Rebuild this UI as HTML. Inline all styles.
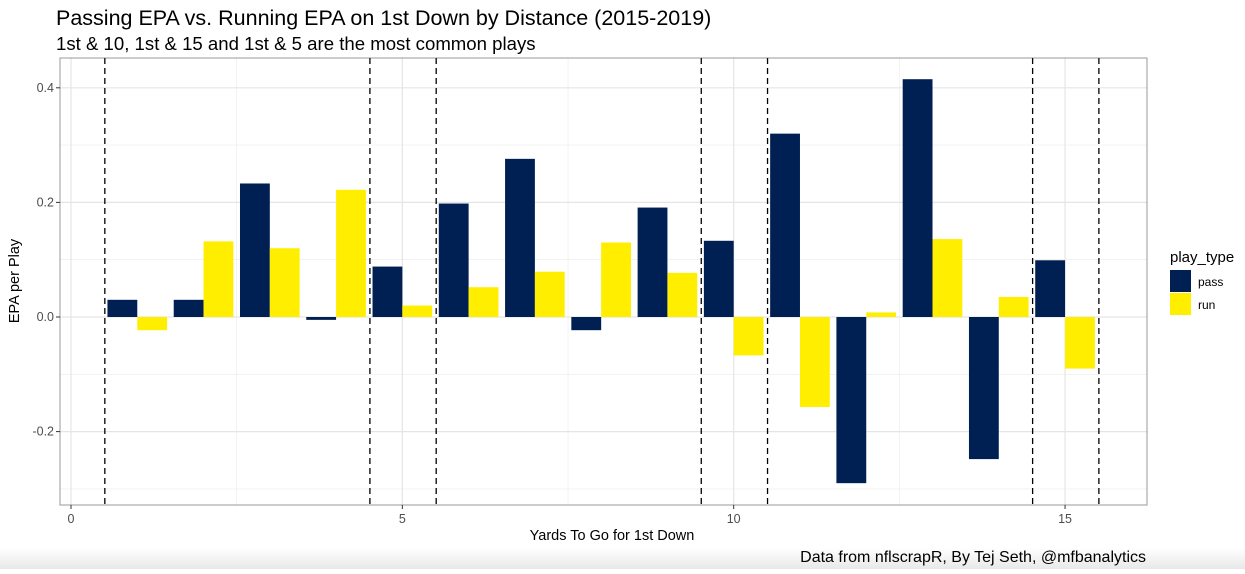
<!DOCTYPE html>
<html><head><meta charset="utf-8"><style>
body{margin:0;background:#fff;font-family:"Liberation Sans",sans-serif;}
</style></head><body>
<svg id="c" width="1245" height="569" xmlns="http://www.w3.org/2000/svg" font-family="Liberation Sans, sans-serif">
<defs><linearGradient id="g" x1="0" y1="0" x2="0" y2="1"><stop offset="0" stop-color="#fff"/><stop offset="1" stop-color="#e8e8e8"/></linearGradient></defs>
<rect x="0" y="548" width="1245" height="21" fill="url(#g)"/>
<text x="56" y="25" font-size="21.5" fill="#000">Passing EPA vs. Running EPA on 1st Down by Distance (2015-2019)</text>
<text x="56" y="50" font-size="18.6" fill="#000">1st &amp; 10, 1st &amp; 15 and 1st &amp; 5 are the most common plays</text>
<g id="grid"></g><g id="bars"></g><g id="vl"></g>
<rect x="60" y="58" width="1087" height="447" fill="none" stroke="#333" stroke-opacity="0.5" stroke-width="1"/>
<g id="axes"></g>
<text x="612" y="540" font-size="14.5" text-anchor="middle">Yards To Go for 1st Down</text>
<text transform="translate(19,281) rotate(-90)" font-size="14.5" text-anchor="middle">EPA per Play</text>
<text x="1146" y="562" font-size="16" text-anchor="end">Data from nflscrapR, By Tej Seth, @mfbanalytics</text>
<g>
<text x="1170" y="262" font-size="15">play_type</text>
<rect x="1170" y="270" width="21" height="22" fill="#001F52"/>
<text x="1198" y="286" font-size="12">pass</text>
<rect x="1170" y="293" width="21" height="22" fill="#FFEE00"/>
<text x="1198" y="309" font-size="12">run</text>
</g>
</svg>
<script>
const yards=[1,2,3,4,5,6,7,8,9,10,11,12,13,14,15];
const passEPA=[0.03,0.03,0.233,-0.005,0.088,0.198,0.276,-0.023,0.191,0.133,0.32,-0.29,0.415,-0.248,0.099];
const runEPA=[-0.023,0.132,0.12,0.222,0.02,0.052,0.079,0.13,0.077,-0.067,-0.157,0.008,0.136,0.035,-0.09];
const dashedAt=[0.5,4.5,5.5,9.5,10.5,14.5,15.5];
const xTicks=[0,5,10,15];
const yTicks=[-0.2,0,0.2,0.4];
const yTickLabels=["-0.2","0.0","0.2","0.4"];
const NS="http://www.w3.org/2000/svg";
const X=v=>71+v*66.27;
const Y=v=>317-v*573;
function mk(p,t,a){const e=document.createElementNS(NS,t);for(const k in a)e.setAttribute(k,a[k]);document.getElementById(p).appendChild(e);return e;}
[-0.3,-0.1,0.1,0.3].forEach(v=>{const e=mk('grid','line',{x1:60,x2:1147,y1:Y(v),y2:Y(v),stroke:'#ebebeb','stroke-width':0.6});

});
[2.5,7.5,12.5].forEach(v=>{const e=mk('grid','line',{x1:X(v),x2:X(v),y1:58,y2:505,stroke:'#ebebeb','stroke-width':0.6});

});
yTicks.forEach((v,i)=>{const e=mk('grid','line',{x1:60,x2:1147,y1:Y(v),y2:Y(v),stroke:'#e5e5e5','stroke-width':1.2});


const t=mk('axes','text',{x:54,y:Y(v)+4,'font-size':12.5,fill:'#4d4d4d','text-anchor':'end'});t.textContent=yTickLabels[i];


const k=mk('axes','line',{x1:56,x2:60,y1:Y(v),y2:Y(v),stroke:'#333'});

});
xTicks.forEach(v=>{const e=mk('grid','line',{x1:X(v),x2:X(v),y1:58,y2:505,stroke:'#e5e5e5','stroke-width':1.2});


const t=mk('axes','text',{x:X(v),y:523,'font-size':12.5,fill:'#4d4d4d','text-anchor':'middle'});t.textContent=v;


const k=mk('axes','line',{x1:X(v),x2:X(v),y1:505,y2:509,stroke:'#333'});

});
yards.forEach((d,i)=>{
[[passEPA[i],-0.45,'#001F52','pass'],[runEPA[i],0,'#FFEE00','run']].forEach(([v,o,c,n])=>{
const y0=Y(Math.max(v,0)),h=Math.abs(Y(v)-Y(0));
const r=mk('bars','rect',{x:X(d+o),y:y0,width:X(0.45)-X(0),height:Math.max(h,0.5),fill:c});

});});
dashedAt.forEach(v=>{const l=mk('vl','line',{x1:X(v)+0.7,x2:X(v)+0.7,y1:58,y2:505,stroke:'#000','stroke-width':1.3,'stroke-dasharray':'6,4'});

});
</script>
</body></html>
